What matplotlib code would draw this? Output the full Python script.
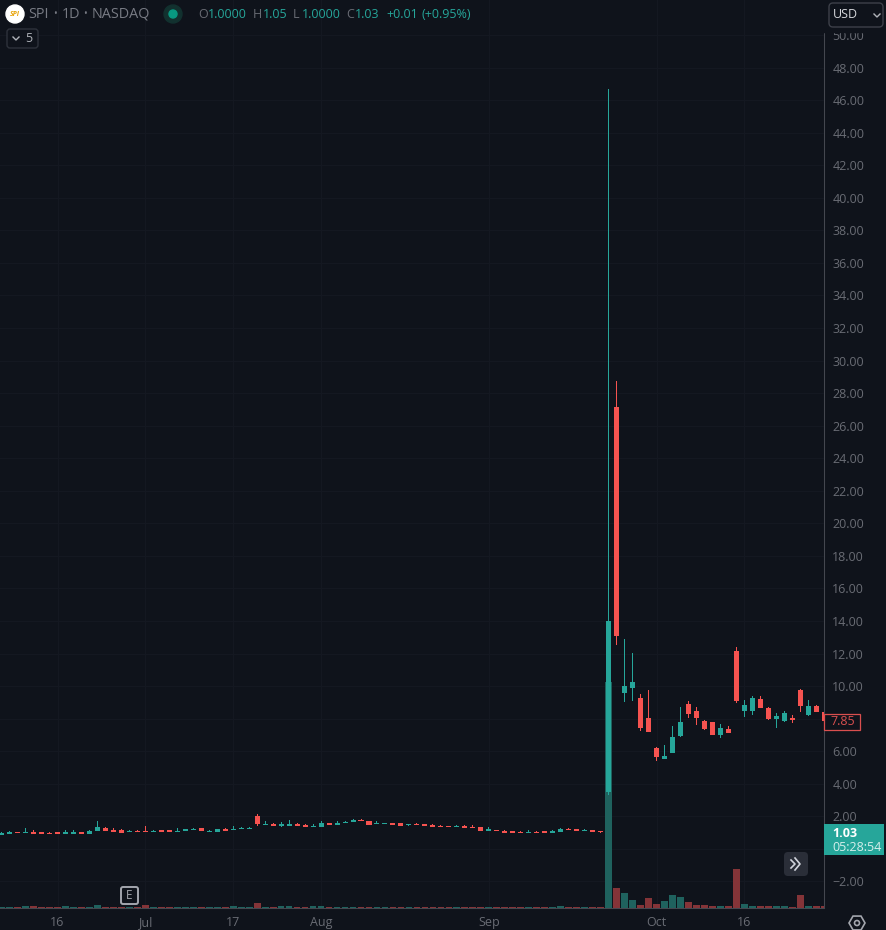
#----------------------------------------------
#   SPI daily candles with volume
#----------------------------------------------
import matplotlib
matplotlib.use('Agg')
import matplotlib.pyplot as plt
from matplotlib.patches import FancyBboxPatch, Rectangle, Circle, RegularPolygon

plt.rcParams['font.family'] = ['Open Sans', 'DejaVu Sans']

#-----OHLC
opens = [.85,.91,1.01,.95,1.01,1.01,.95,1.01,.91,.91,1.01,.91,1.08,1.26,1.14,1.14,1.03,1.10,1.08,1.03,
         1.14,1.14,1.03,1.10,1.16,1.26,1.03,1.03,1.20,1.16,1.22,1.22,2.00,1.44,1.51,1.38,1.40,1.51,1.44,1.34,
         1.34,1.57,1.47,1.59,1.65,1.75,1.69,1.53,1.53,1.57,1.57,1.47,1.53,1.51,1.44,1.38,1.38,1.34,1.38,1.32,
         1.32,1.10,1.14,1.08,1.08,1.01,.97,1.01,1.08,.97,1.03,1.20,1.20,1.10,1.14,1.06,3.47,27.15,9.58,9.87,
         9.25,8.02,6.20,5.50,5.91,6.92,8.88,8.45,7.84,7.78,6.98,7.35,12.14,8.45,8.45,9.19,8.64,7.96,7.84,8.02,
         9.74,8.21,8.76,8.39]
highs = [1.01,1.08,1.01,1.26,1.14,1.01,1.01,1.01,1.14,1.14,1.01,1.14,1.69,1.32,1.26,1.20,1.14,1.14,1.38,1.14,
         1.14,1.14,1.26,1.20,1.26,1.26,1.14,1.20,1.26,1.38,1.32,1.32,2.12,1.69,1.57,1.63,1.75,1.57,1.51,1.51,
         1.69,1.57,1.69,1.69,1.81,1.81,1.69,1.69,1.57,1.57,1.57,1.51,1.57,1.51,1.51,1.44,1.38,1.44,1.44,1.44,
         1.32,1.32,1.14,1.14,1.08,1.08,1.14,1.08,1.08,1.14,1.26,1.26,1.20,1.20,1.14,1.06,46.7,28.73,12.88,12.02,
         9.50,9.74,6.26,6.36,7.53,8.70,9.07,8.70,7.90,7.78,7.65,7.53,12.38,9.13,9.37,9.37,8.70,8.33,8.45,8.20,
         9.80,9.13,8.82,8.39]
lows = [.85,.91,.95,.95,.91,.91,.91,.91,.91,.91,.91,.91,1.08,1.08,1.03,.97,1.03,1.03,1.03,1.03,
        1.03,1.03,1.03,1.10,1.16,1.08,1.03,1.03,1.10,1.16,1.22,1.22,1.38,1.44,1.40,1.32,1.40,1.40,1.34,1.34,
        1.34,1.47,1.47,1.59,1.65,1.71,1.47,1.53,1.53,1.47,1.40,1.38,1.47,1.40,1.34,1.34,1.34,1.34,1.28,1.28,
        1.10,1.10,1.10,.97,.97,.97,.97,.97,.97,.97,1.03,1.16,1.10,1.10,1.03,.98,3.30,12.51,9.03,9.07,
        7.22,7.18,5.38,5.50,5.87,6.85,8.02,7.59,7.29,6.98,6.79,7.10,8.94,8.08,8.20,8.64,7.90,7.41,7.78,7.72,
        8.39,8.15,8.39,7.80]
closes = [.97,1.01,.95,.99,.91,.91,.91,.91,1.01,1.01,.91,1.08,1.32,1.08,1.03,.97,1.08,1.03,1.03,1.08,
          1.03,1.03,1.08,1.20,1.20,1.08,1.10,1.20,1.10,1.20,1.26,1.26,1.51,1.49,1.40,1.51,1.51,1.40,1.34,1.38,
          1.57,1.47,1.57,1.63,1.75,1.71,1.47,1.57,1.57,1.47,1.40,1.51,1.47,1.40,1.34,1.34,1.34,1.38,1.28,1.28,
          1.10,1.20,1.10,.97,.97,.97,1.01,.97,.97,1.08,1.20,1.16,1.10,1.14,1.03,1.03,14.0,13.08,9.99,10.24,
          7.43,7.18,5.62,5.69,6.85,7.78,8.27,8.02,7.35,7.02,7.41,7.10,9.07,8.82,9.25,8.64,7.96,8.15,8.33,7.90,
          8.76,8.76,8.39,7.85]
#-----volume, relative units
volumes = [1.3,1.3,1.3,2.3,2.3,1.3,1.3,1.3,2.3,1.3,1.3,1.3,3.3,1.3,1.3,1.3,1.3,1.3,3.3,1.3,
           1.3,1.3,1.3,1.3,1.3,1.3,1.3,1.3,1.3,2.3,1.3,1.3,5.3,1.3,1.3,2.3,2.3,1.3,1.3,2.3,
           2.3,1.3,1.3,1.3,1.3,1.3,1.3,1.3,1.3,1.3,1.3,1.3,1.3,1.3,1.3,1.3,1.3,1.3,1.3,1.3,
           1.3,1.3,1.3,1.3,1.3,1.3,1.3,1.3,1.3,1.3,2.3,1.3,1.3,1.3,1.3,1.3,226.5,20.3,15.3,8.3,
           3.3,10.3,4.3,7.3,13.3,11.3,6.3,3.3,3.3,2.3,2.3,2.3,39.3,4.3,2.3,2.3,2.3,2.3,2.3,1.3,
           13.3,2.3,2.3,2.3]
date_pos = [7, 18, 29, 40, 61, 82, 93]
date_labels = ['16', 'Jul', '17', 'Aug', 'Sep', 'Oct', '16']
price_ticks = [-2, 0] + list(range(2, 52, 2))
hidden_labels = [0, 8]   # covered by the price tags

BG = '#0f131b'
GRID = '#141821'
LINE = '#44474f'
TXT = '#696c74'
UP = '#26a69a'
DOWN = '#f65350'
UP_VOL = '#1f625e'
DOWN_VOL = '#843438'

W, H = 887, 930
fig = plt.figure(figsize=(W/100, H/100), dpi=100, facecolor=BG)
ax = fig.add_axes([0, (H-908)/H, 824/W, 908/H], facecolor=BG)

n = len(opens)
x = list(range(n))
up = [c >= o for o, c in zip(opens, closes)]
colors = [UP if u else DOWN for u in up]
bottoms = [min(o, c) for o, c in zip(opens, closes)]
# one pixel minimum so flat bodies stay visible
heights = [max(abs(c-o), 0.06) for o, c in zip(opens, closes)]
wick_len = [h-l for h, l in zip(highs, lows)]

#-----three layers: grid and labels, volume, candles
vax = ax.twinx()
cax = ax.twinx()
ax.set_zorder(1)
vax.set_zorder(2)
cax.set_zorder(3)

vax.set_ylim(0, 908)
vax.axis('off')
vax.bar(x, volumes, width=0.84, color=[UP_VOL if u else DOWN_VOL for u in up], linewidth=0)

cax.bar(x, wick_len, bottom=lows, width=0.125, color=colors, linewidth=0)
cax.bar(x, heights, bottom=bottoms, width=0.63, color=colors, linewidth=0)
cax.set_ylim(-3.63, 52.15)
cax.axis('off')

ax.set_xlim(-0.2, 102.97)
ax.set_ylim(-3.63, 52.15)
ax.set_xticks(date_pos)
ax.set_xticklabels(date_labels)
ax.set_yticks(price_ticks)
ax.set_yticklabels(['' if p in hidden_labels else ('\u2212%.2f' % abs(p) if p < 0 else '%.2f' % p) for p in price_ticks])
ax.yaxis.tick_right()
ax.tick_params(axis='both', length=0, labelsize=9, labelcolor=TXT)
ax.tick_params(axis='x', pad=6)
ax.tick_params(axis='y', pad=6)
ax.grid(True, color=GRID, linewidth=0.75)
ax.set_axisbelow(True)
for s in ['top', 'left']:
    ax.spines[s].set_visible(False)
for s in ['right', 'bottom']:
    ax.spines[s].set_color(LINE)
    ax.spines[s].set_linewidth(0.75)

#-----overlay in pixel coordinates for the widgets
ov = fig.add_axes([0, 0, 1, 1])
ov.set_zorder(5)
ov.set_xlim(0, W)
ov.set_ylim(H, 0)
ov.axis('off')
ov.patch.set_visible(False)

# top of price scale
ov.add_patch(Rectangle((823.5, 0), 64, 32, color=BG, zorder=1))

# header
ov.add_patch(Circle((15, 14), 9, color='white', zorder=2))
ov.text(15, 14, 'SPI', color='#e8a50c', fontsize=5, fontweight='bold', style='italic', ha='center', va='center', zorder=3)
ov.text(28, 14.5, 'SPI', color='#787b84', fontsize=10.4, va='center', zorder=3)
ov.text(62, 14.5, '1D', color='#787b84', fontsize=10.4, va='center', zorder=3)
ov.text(92, 14.5, 'NASDAQ', color='#787b84', fontsize=10.4, va='center', zorder=3)
ov.text(55, 14.5, '\u2022', color='#787b84', fontsize=7, ha='center', va='center', zorder=3)
ov.text(85, 14.5, '\u2022', color='#787b84', fontsize=7, ha='center', va='center', zorder=3)
ov.add_patch(Circle((173, 14), 9, color='#12312f', zorder=2))
ov.add_patch(Circle((173, 14), 4, color='#089981', zorder=3))
hdr = [(198, 'O', TXT), (208, '1.0000', UP), (253, 'H', TXT), (263, '1.05', UP), (293, 'L', TXT),
       (302, '1.0000', UP), (346, 'C', TXT), (355, '1.03', UP), (386, '+0.01', UP), (422, '(+0.95%)', UP)]
for hx, s, c in hdr:
    ov.text(hx, 14.5, s, color=c, fontsize=9, va='center', zorder=3)

# indicator collapse button
ov.add_patch(FancyBboxPatch((7, 29), 31, 19, boxstyle='round,pad=0,rounding_size=3', fc=BG, ec='#2e323b', lw=1, zorder=2))
ov.plot([13, 16, 19], [37, 40, 37], color='#b0b3b9', lw=1, zorder=3)
ov.text(29, 38.5, '5', color='#b0b3b9', fontsize=9, ha='center', va='center', zorder=3)

# currency button
ov.add_patch(FancyBboxPatch((829, 3), 54, 24, boxstyle='round,pad=0,rounding_size=4', fc=BG, ec='#3d4049', lw=1, zorder=2))
ov.text(833, 15, 'USD', color='#d6d8dc', fontsize=9, va='center', zorder=3)
ov.plot([874, 877, 880], [14, 17, 14], color='#b0b3b9', lw=1, zorder=3)

# last price tags
ov.add_patch(Rectangle((824.5, 713.5), 36, 16, fc=BG, ec='#d94f4f', lw=0.9, zorder=2))
ov.text(842.5, 721.5, '7.85', color='#d94f4f', fontsize=9, ha='center', va='center', zorder=3)
ov.add_patch(Rectangle((824.5, 824), 60, 31, fc=UP, ec='none', zorder=2))
ov.text(832, 833, '1.03', color='white', fontsize=9, fontweight='bold', va='center', zorder=3)
ov.text(832, 847, '05:28:54', color='#d6efec', fontsize=9, va='center', zorder=3)

# earnings badge
ov.add_patch(FancyBboxPatch((121, 887), 17, 17, boxstyle='round,pad=0,rounding_size=2', fc=BG, ec='#a3a6ad', lw=1.4, zorder=2))
ov.text(129.5, 895.5, 'E', color='#a3a6ad', fontsize=8.5, ha='center', va='center', zorder=3)

# scroll to latest button
ov.add_patch(FancyBboxPatch((784, 852), 24, 24, boxstyle='round,pad=0,rounding_size=4', fc='#2a2e38', ec='none', zorder=2))
ov.plot([791, 795, 791], [860, 864, 868], color='#d1d4dc', lw=1.2, zorder=3)
ov.plot([795, 800, 795], [858, 864, 870], color='#d1d4dc', lw=1.2, zorder=3)

# settings icon
ov.add_patch(RegularPolygon((857, 923), 6, radius=8, orientation=0.5236, fc=BG, ec='#a3a6ad', lw=1.2, zorder=3))
ov.add_patch(Circle((857, 923), 2.5, fc=BG, ec='#a3a6ad', lw=1.2, zorder=4))

plt.savefig('out.png', dpi=100, facecolor=BG)
